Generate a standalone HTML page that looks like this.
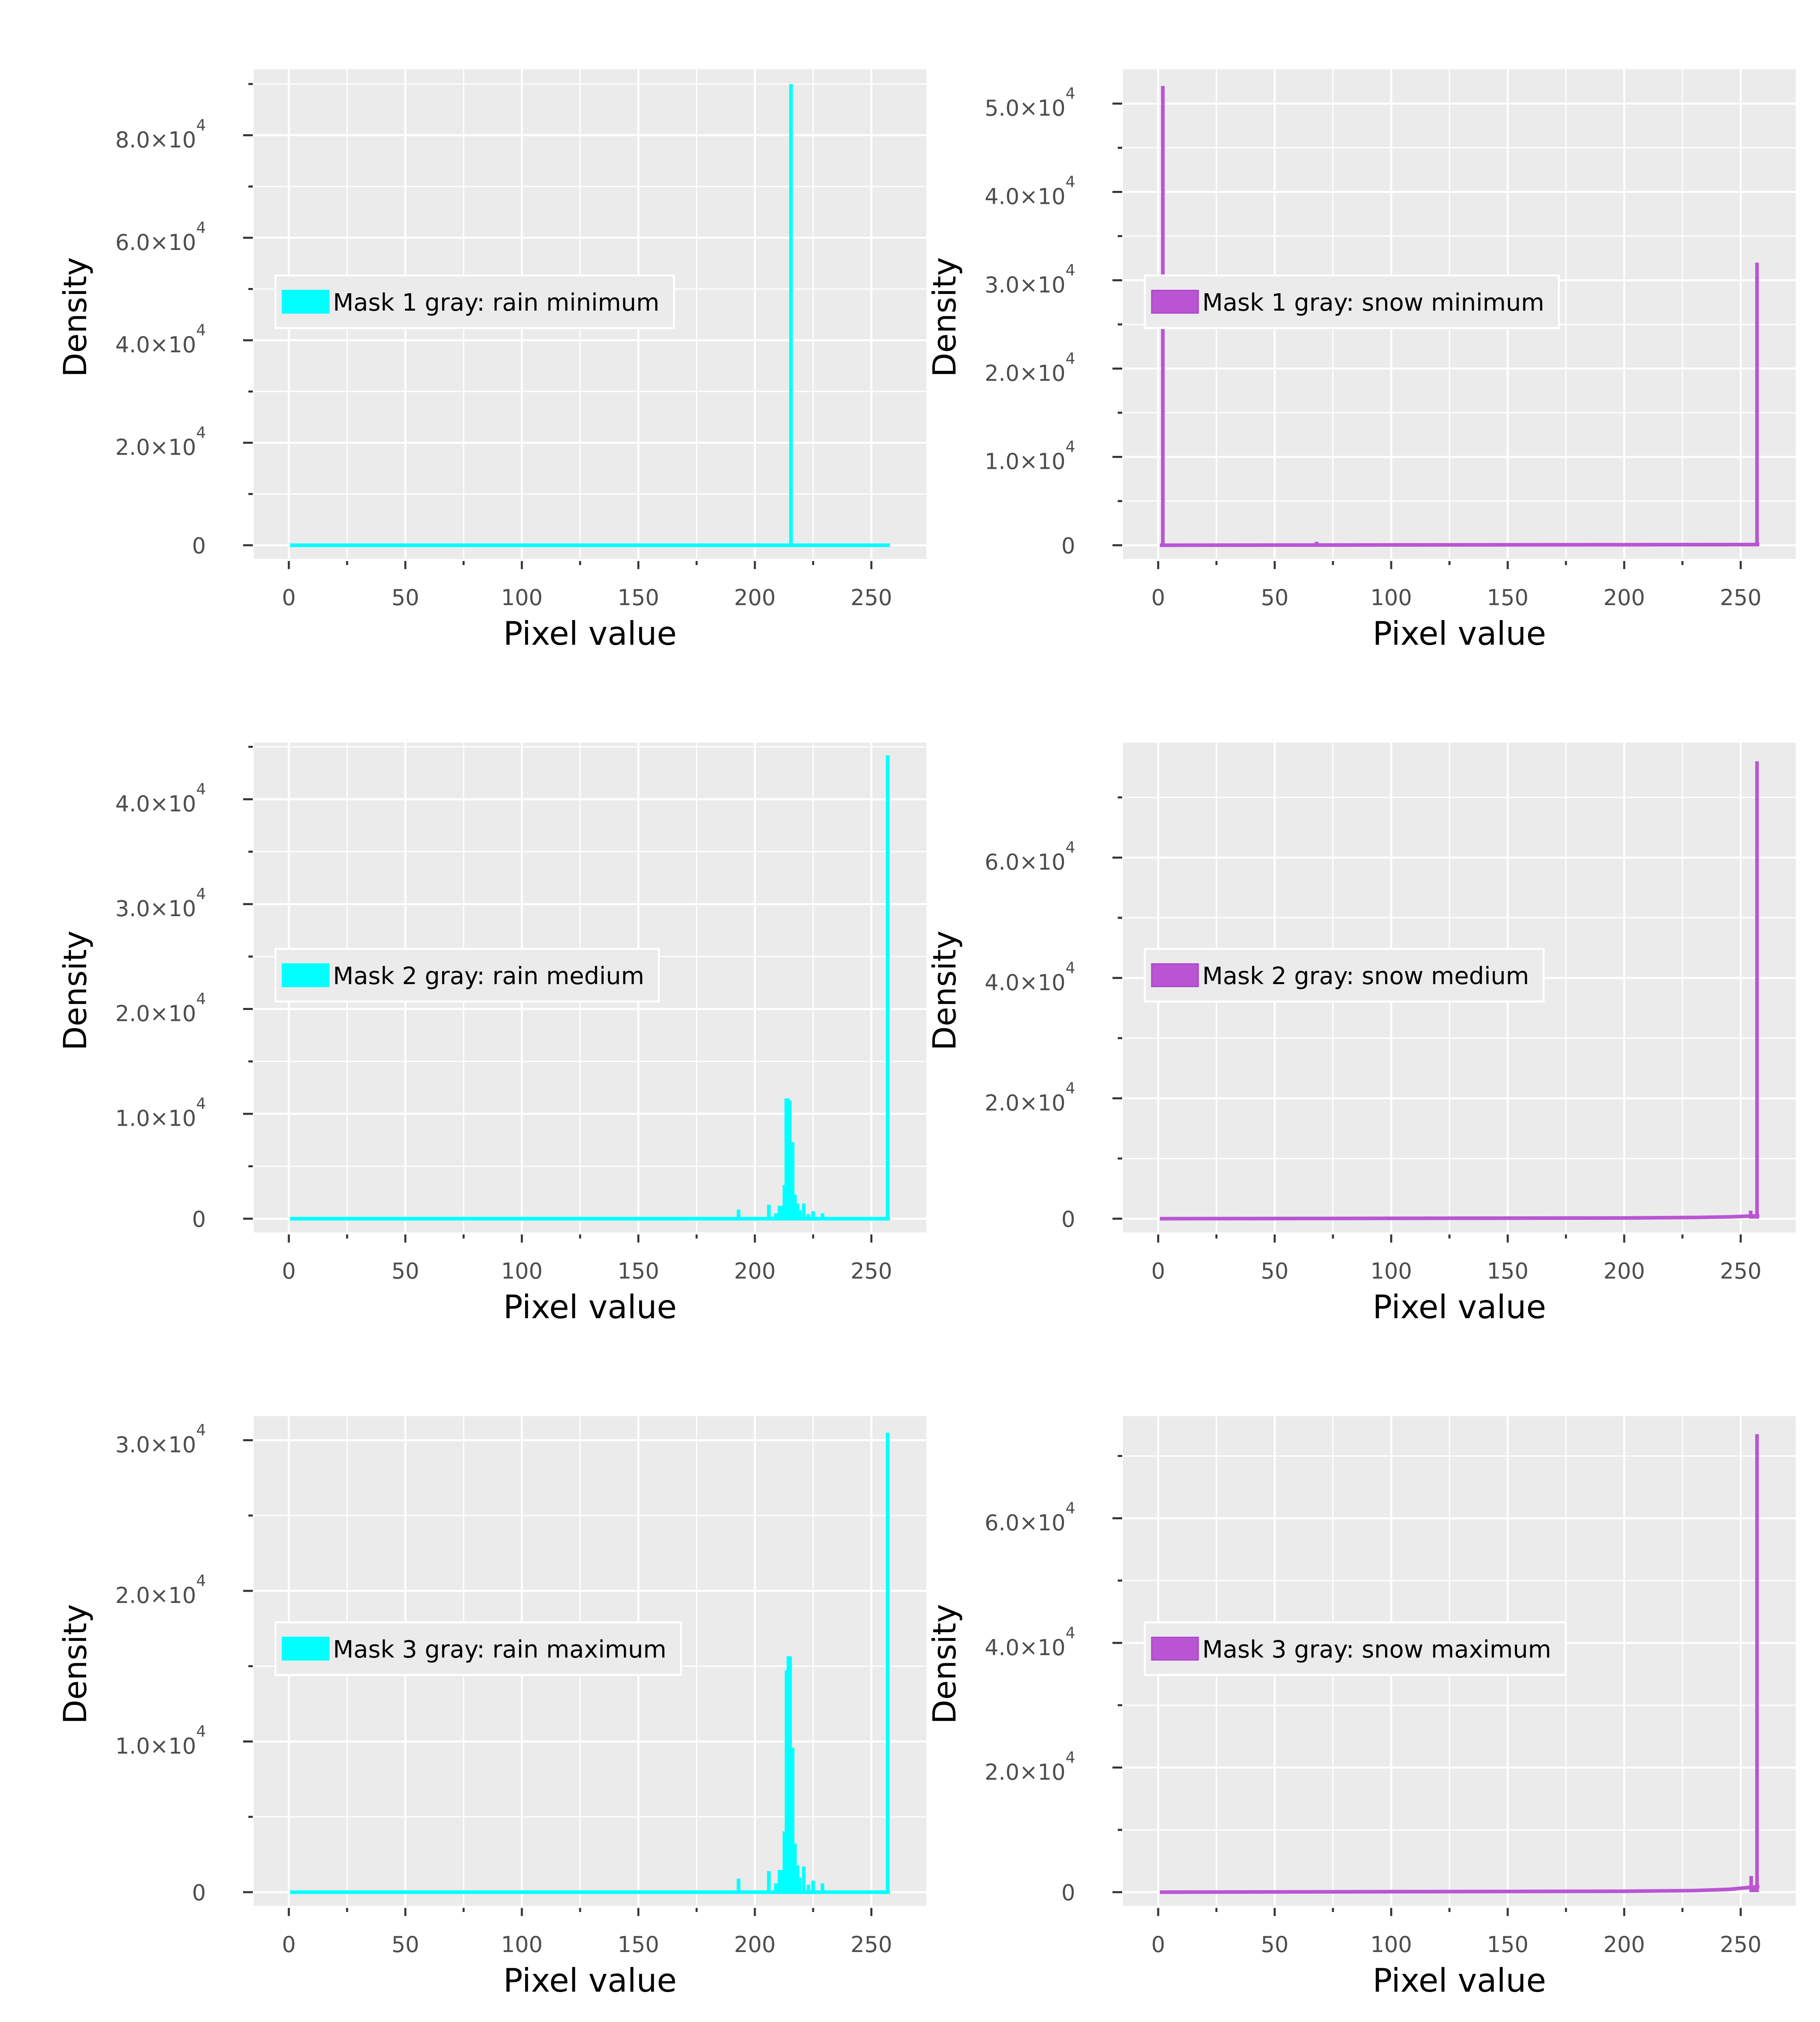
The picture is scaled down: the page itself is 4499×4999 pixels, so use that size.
<!DOCTYPE html>
<html><head><meta charset="utf-8"><style>
html,body{margin:0;padding:0;background:#fff;}
svg{display:block;font-family:"DejaVu Sans","Liberation Sans",sans-serif;}
</style></head><body>
<svg id="fig" width="4499" height="4999" viewBox="0 0 4499 4999" xmlns="http://www.w3.org/2000/svg"></svg>
<script>
// ---- data (pixel value positions and densities) ----
const xTickValues = [0, 50, 100, 150, 200, 250];
const legendLabels = ["Mask 1 gray: rain minimum","Mask 1 gray: snow minimum","Mask 2 gray: rain medium","Mask 2 gray: snow medium","Mask 3 gray: rain maximum","Mask 3 gray: snow maximum"];
// spikes per panel
const p1SpikeX = [215.5];
const p1SpikeY = [90000];
const p2SpikeX = [2, 68, 257];
const p2SpikeY = [52000, 400, 32000];
const p3SpikeX = [193, 206, 209, 210.6, 211.4, 212.7, 213.5, 214.2, 215, 216.2, 217.2, 218.3, 219.2, 221, 223, 225, 229, 257];
const p3SpikeY = [860, 1335, 520, 1230, 1230, 3220, 11470, 11470, 11280, 7300, 2300, 1440, 820, 1450, 450, 710, 520, 44200];
const p4SpikeX = [254.3, 255.3, 257];
const p4SpikeY = [1340, 600, 76000];
const p5SpikeX = [193, 206, 209, 210.6, 211.4, 212.7, 213.6, 214.4, 215.1, 216.2, 217.2, 218.3, 219.2, 221, 223, 225, 229, 257];
const p5SpikeY = [900, 1400, 580, 1470, 1470, 4030, 14730, 15660, 15660, 9590, 3220, 1790, 960, 1700, 490, 770, 580, 30500];
const p6SpikeX = [254.5, 255.5, 257];
const p6SpikeY = [2600, 1100, 73500];
// baseline profiles
const rainBaseX = [0.5, 258];
const rainBaseY = [0, 0];
const p2BaseX = [0.7, 100, 200, 258];
const p2BaseY = [0, 30, 60, 80];
const p4BaseX = [0.7, 100, 200, 230, 245, 252, 258];
const p4BaseY = [0, 60, 120, 200, 300, 400, 500];
const p6BaseX = [0.7, 100, 200, 230, 245, 252, 258];
const p6BaseY = [0, 80, 150, 250, 450, 700, 900];
// axis limits (y max per panel) and tick steps
const yMaxes = [92900, 53900, 45400, 79100, 31600, 76400];
const yLabelSteps = [20000, 10000, 10000, 20000, 10000, 20000];
const yMinorSteps = [10000, 5000, 5000, 10000, 5000, 10000];
const yLabelMax = [80000, 50000, 40000, 60000, 30000, 60000];

const spikesX = [p1SpikeX, p2SpikeX, p3SpikeX, p4SpikeX, p5SpikeX, p6SpikeX];
const spikesY = [p1SpikeY, p2SpikeY, p3SpikeY, p4SpikeY, p5SpikeY, p6SpikeY];
const basesX = [rainBaseX, p2BaseX, rainBaseX, p4BaseX, rainBaseX, p6BaseX];
const basesY = [rainBaseY, p2BaseY, rainBaseY, p4BaseY, rainBaseY, p6BaseY];
const colors = ["#00FFFF", "#BA55D3"];

const NS = "http://www.w3.org/2000/svg";
const svg = document.getElementById("fig");
function mk(tag, attrs, parent) {
  const e = document.createElementNS(NS, tag);
  for (const k in attrs) e.setAttribute(k, attrs[k]);
  (parent || svg).appendChild(e);
  return e;
}
const W = 1663, H = 1211, ZERO = 1177, X0OFF = 87, XUNIT = 5.76;

for (let p = 0; p < 6; p++) {
  const col = p % 2, row = Math.floor(p / 2);
  const L = col === 0 ? 627 : 2776;
  const T = 171 + row * 1665;
  const ppu = ZERO / yMaxes[p];
  const xs = v => L + X0OFF + v * XUNIT;
  const ys = v => T + ZERO - v * ppu;
  const color = colors[col];

  const g = mk("g", {});
  
  

  const bg = mk("rect", {x: L, y: T, width: W, height: H, fill: "#EBEBEB"}, g);
  
  

  // x grid + ticks
  for (let v = 0; v <= 275; v += 25) {
    const X = xs(v);
    if (X > L + W) break;
    const major = v % 50 === 0;
    const gl = mk("line", {x1: X, x2: X, y1: T, y2: T + H, stroke: "#fff", "stroke-width": major ? 5 : 3}, g);
    
    
    const tk = mk("line", {x1: X, x2: X, y1: T + H + 5, y2: T + H + (major ? 25 : 15), stroke: "#333", "stroke-width": 5}, g);
    
    
  }
  xTickValues.forEach(v => {
    const t = mk("text", {x: xs(v), y: T + H + 114, "font-size": 54, fill: "#4d4d4d", "text-anchor": "middle"}, g);
    t.textContent = String(v);
    
    
  });
  // y grid + ticks
  for (let v = 0; ys(v) >= T; v += yMinorSteps[p]) {
    const Y = ys(v);
    const major = Math.abs(v % yLabelSteps[p]) < 1;
    const gl = mk("line", {x1: L, x2: L + W, y1: Y, y2: Y, stroke: "#fff", "stroke-width": major ? 5 : 3}, g);
    
    
    const tk = mk("line", {x1: L - (major ? 26 : 13), x2: L - 2, y1: Y, y2: Y, stroke: "#333", "stroke-width": 5}, g);
    
    
  }
  for (let v = 0; v <= yLabelMax[p] + 1; v += yLabelSteps[p]) {
    const Y = ys(v);
    const t = mk("text", {x: L - 118, y: v === 0 ? Y + 20 : Y + 30, "font-size": 54, fill: "#4d4d4d", "text-anchor": "end"}, g);
    
    
    if (v === 0) { t.textContent = "0"; }
    else {
      const base = mk("tspan", {}, t);
      base.textContent = (v / 10000).toFixed(1) + "×10";
      const sup = mk("tspan", {"font-size": 38, dy: -42}, t);
      sup.textContent = "4";
    }
  }
  // clip
  const cid = "clip" + p;
  const cp = mk("clipPath", {id: cid}, g);
  mk("rect", {x: L, y: T, width: W, height: H}, cp);
  const dg = mk("g", {"clip-path": "url(#" + cid + ")"}, g);
  // baseline
  let d = "";
  basesX[p].forEach((v, i) => { d += (i ? "L" : "M") + xs(v).toFixed(1) + "," + ys(basesY[p][i]).toFixed(1); });
  const bl = mk("path", {d: d, fill: "none", stroke: color, "stroke-width": 9, "stroke-linejoin": "round"}, dg);
  
  
  // spikes
  spikesX[p].forEach((v, i) => {
    const s = mk("line", {x1: xs(v), x2: xs(v), y1: ys(0), y2: ys(spikesY[p][i]), stroke: color, "stroke-width": 9}, dg);
    
    
  });
  // axis titles
  const xt = mk("text", {x: L + W / 2, y: T + H + 212, "font-size": 80, fill: "#000", "text-anchor": "middle"}, g);
  xt.textContent = "Pixel value";
  
  
  const yx = L - 414, yy = T + 613;
  const yt = mk("text", {x: yx, y: yy, "font-size": 78, fill: "#000", "text-anchor": "middle", transform: "rotate(-90 " + yx + " " + yy + ")"}, g);
  yt.textContent = "Density";
  
  
  // legend
  const lg = mk("g", {}, g);
  
  
  const box = mk("rect", {x: L + 54, y: T + 510, width: 990, height: 130, fill: "#EBEBEB", stroke: "#fff", "stroke-width": 5}, lg);
  
  
  const patch = mk("rect", {x: L + 71, y: T + 547, width: 115, height: 56, fill: color, stroke: col ? "#A844C8" : "#00FFFF", "stroke-width": 3}, lg);
  
  
  const lt = mk("text", {x: L + 196, y: T + 597, "font-size": 59, fill: "#000"}, lg);
  lt.textContent = legendLabels[p];
  
  
  const tl = lt.getComputedTextLength();
  box.setAttribute("width", (196 - 54) + tl + 36);
}
</script>
</body></html>
